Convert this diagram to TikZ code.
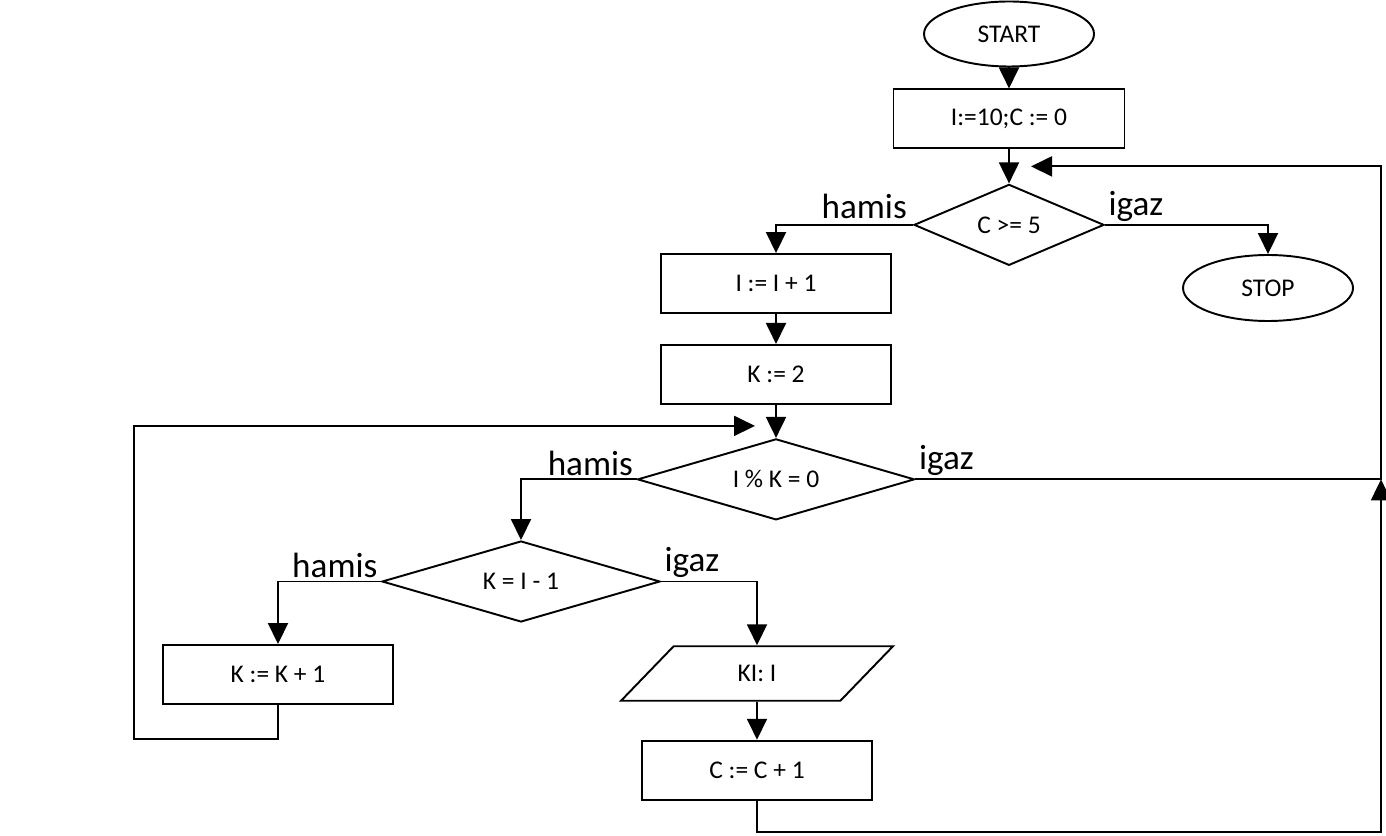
\documentclass[tikz,border=0pt]{standalone}
\usepackage{fontspec}
\setmainfont{Carlito}
\usetikzlibrary{shapes.geometric, arrows.meta, positioning, calc}

\begin{document}
\begin{tikzpicture}[
        font=\fontsize{14.5}{17}\selectfont,
        term/.style={draw, ellipse, line width=1.1pt, minimum width=3.4cm, minimum height=1.3cm, inner sep=0pt},
        proc/.style={draw, rectangle, line width=1.1pt, minimum width=4.6cm, minimum height=1.18cm},
        cond/.style={draw, diamond, aspect=2.5, line width=1.1pt, inner sep=0pt, minimum height=1.62cm},
        inout/.style={draw, trapezium, trapezium left angle=46, trapezium right angle=134, line width=1.1pt, inner xsep=1.28cm, inner ysep=0.38cm},
        lbl/.style={font=\fontsize{20}{23}\selectfont, inner sep=1.5pt},
        arr/.style={-{Triangle[length=0.42cm, width=0.4cm]}, line width=1.1pt},
    ]
        \useasboundingbox (0,0) rectangle (27.72,-16.72);

        % --- main column: start, init, first test ---
        \node[term] (start) at (20.18,-0.68) {START};
        \node[proc, minimum width=4.62cm, below=0.42cm of start] (init) {I:=10;C := 0};
        \node[cond, minimum width=3.8cm, below=0.68cm of init] (testC) {C >= 5};
        \node[term, minimum height=1.32cm] (stop) at (25.36,-5.76) {STOP};

        % --- next number, divisor reset ---
        \node[proc] (incI) at (15.52,-5.67) {I := I + 1};
        \node[proc, below=0.6cm of incI] (setK) {K := 2};
        \node[cond, minimum width=5.54cm, below=0.66cm of setK] (testMod) {I \% K = 0};

        % --- divisor check ---
        \node[cond, minimum width=5.56cm] (testK) at (10.42,-11.63) {K = I - 1};
        \node[proc] (incK) at (5.56,-13.49) {K := K + 1};
        \node[inout] (kiir) at (15.14,-13.47) {KI: I};
        \node[proc, below=0.76cm of kiir] (incC) {C := C + 1};

        % --- loop corners ---
        \coordinate (rcol) at (27.62,0);
        \coordinate (rbot) at (27.62,-16.64);
        \coordinate (cret) at ($(testC.north)+(0.44,0.34)$);
        \coordinate (kloop) at (2.68,-14.78);
        \coordinate (kret) at ($(testMod.north)+(-0.42,0.24)$);

        % --- top part ---
        \draw[arr] (start) -- (init);
        \draw[arr] (init) -- (testC);
        \draw[arr] (testC.west) node[lbl, above left, inner sep=3pt]{hamis} -| (incI.north);
        \draw[arr] (testC.east) node[lbl, above right]{igaz} -| (stop.north);
        \draw[arr] (incI) -- (setK);
        \draw[arr] (setK) -- (testMod);

        % --- branches of the tests ---
        \draw[arr] (testMod.west) node[lbl, above left]{hamis} -| (testK.north);
        \draw[arr] (testMod.east) node[lbl, above right]{igaz} -- (testMod.east -| rcol) |- (cret);
        \draw[arr] (testK.west) node[lbl, above left]{hamis} -| (incK.north);
        \draw[arr] (testK.east) node[lbl, above right]{igaz} -| (kiir.north);

        % --- back loops ---
        \draw[arr] (incK.south) |- (kloop) |- (kret);
        \draw[arr] (kiir) -- (incC);
        \draw[arr] (incC.south) |- (rbot) -- (rbot |- testMod.east);

    \end{tikzpicture}
\end{document}
